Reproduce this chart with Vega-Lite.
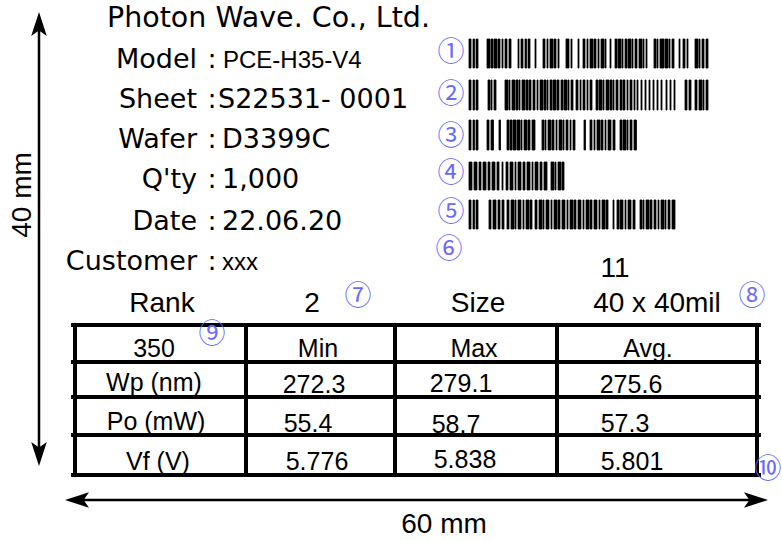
{
  "$schema": "https://vega.github.io/schema/vega-lite/v6.json",
  "width": 782,
  "height": 541,
  "padding": 0,
  "autosize": {"type": "none"},
  "background": "white",
  "config": {"view": {"stroke": null}},
  "datasets": {
    "codes": [
      {"b": 1, "y": 39, "y2": 68},
      {"b": 2, "y": 80, "y2": 110},
      {"b": 3, "y": 120, "y2": 150},
      {"b": 4, "y": 162, "y2": 190},
      {"b": 5, "y": 200, "y2": 229}
    ],
    "bars": [
      {"b":1,"x":469,"x2":471},{"b":1,"x":473,"x2":474.5},{"b":1,"x":476,"x2":478},
      {"b":1,"x":487,"x2":490},{"b":1,"x":491,"x2":493},{"b":1,"x":494,"x2":497},{"b":1,"x":498,"x2":500},{"b":1,"x":502,"x2":503},{"b":1,"x":505,"x2":507},{"b":1,"x":509,"x2":511},
      {"b":1,"x":518,"x2":519},{"b":1,"x":521,"x2":523},{"b":1,"x":525,"x2":526.5},{"b":1,"x":528,"x2":530},
      {"b":1,"x":535,"x2":536},
      {"b":1,"x":543,"x2":545},{"b":1,"x":547,"x2":548},{"b":1,"x":550,"x2":553},{"b":1,"x":554,"x2":556},{"b":1,"x":558,"x2":559},
      {"b":1,"x":566,"x2":569},{"b":1,"x":571,"x2":572},
      {"b":1,"x":578,"x2":579},{"b":1,"x":583,"x2":585},{"b":1,"x":587,"x2":588},{"b":1,"x":590,"x2":593},{"b":1,"x":594,"x2":596},{"b":1,"x":598,"x2":599},{"b":1,"x":601,"x2":604},{"b":1,"x":605,"x2":606},
      {"b":1,"x":610,"x2":611},
      {"b":1,"x":615,"x2":617},{"b":1,"x":618,"x2":621},{"b":1,"x":622,"x2":623},{"b":1,"x":625,"x2":627},{"b":1,"x":628,"x2":631},{"b":1,"x":632,"x2":633},{"b":1,"x":635,"x2":637},{"b":1,"x":639,"x2":642},{"b":1,"x":643,"x2":644},{"b":1,"x":646,"x2":647},
      {"b":1,"x":654,"x2":656},{"b":1,"x":657,"x2":658},{"b":1,"x":660,"x2":664},{"b":1,"x":665,"x2":668},{"b":1,"x":669,"x2":670},{"b":1,"x":672,"x2":674},
      {"b":1,"x":679,"x2":680},{"b":1,"x":683,"x2":685},{"b":1,"x":687,"x2":688},
      {"b":1,"x":695,"x2":698},{"b":1,"x":699,"x2":700},{"b":1,"x":702,"x2":704},{"b":1,"x":706,"x2":708},

      {"b":2,"x":469,"x2":471},{"b":2,"x":473,"x2":474.5},{"b":2,"x":476,"x2":478},
      {"b":2,"x":488,"x2":490},{"b":2,"x":491,"x2":492},{"b":2,"x":494,"x2":496},
      {"b":2,"x":505,"x2":508},{"b":2,"x":509,"x2":510},{"b":2,"x":512,"x2":515},{"b":2,"x":516,"x2":518},{"b":2,"x":519,"x2":520},{"b":2,"x":522,"x2":525},{"b":2,"x":526,"x2":528},{"b":2,"x":529,"x2":531},
      {"b":2,"x":533,"x2":535},{"b":2,"x":537,"x2":538},{"b":2,"x":540,"x2":543},{"b":2,"x":544,"x2":546},{"b":2,"x":547,"x2":548},{"b":2,"x":550,"x2":552},{"b":2,"x":553,"x2":556},{"b":2,"x":557,"x2":559},
      {"b":2,"x":561,"x2":563},{"b":2,"x":564,"x2":567},{"b":2,"x":568,"x2":569},{"b":2,"x":571,"x2":573},
      {"b":2,"x":576,"x2":578},{"b":2,"x":580,"x2":581},{"b":2,"x":583,"x2":585},{"b":2,"x":587,"x2":588},{"b":2,"x":590,"x2":592},
      {"b":2,"x":596,"x2":598},{"b":2,"x":599,"x2":602},{"b":2,"x":603,"x2":604},{"b":2,"x":606,"x2":609},{"b":2,"x":610,"x2":612},{"b":2,"x":613,"x2":614},{"b":2,"x":616,"x2":618},
      {"b":2,"x":620,"x2":622},{"b":2,"x":623,"x2":625},{"b":2,"x":627,"x2":628},{"b":2,"x":630,"x2":632},{"b":2,"x":634,"x2":635},{"b":2,"x":637,"x2":638},{"b":2,"x":641,"x2":642},{"b":2,"x":645,"x2":646},{"b":2,"x":649,"x2":650},{"b":2,"x":653,"x2":654},{"b":2,"x":657,"x2":658},{"b":2,"x":661,"x2":662},{"b":2,"x":666,"x2":667},{"b":2,"x":670,"x2":671},{"b":2,"x":674,"x2":675},
      {"b":2,"x":685,"x2":687},{"b":2,"x":689,"x2":691},
      {"b":2,"x":695,"x2":697},{"b":2,"x":699,"x2":702},{"b":2,"x":703,"x2":704},{"b":2,"x":706,"x2":708},

      {"b":3,"x":469,"x2":471},{"b":3,"x":473,"x2":474.5},{"b":3,"x":476,"x2":478},
      {"b":3,"x":487,"x2":489},{"b":3,"x":491,"x2":493.5},
      {"b":3,"x":499,"x2":500.5},
      {"b":3,"x":507,"x2":509},{"b":3,"x":510,"x2":512},{"b":3,"x":513,"x2":516},{"b":3,"x":517,"x2":520},{"b":3,"x":521,"x2":522},{"b":3,"x":524,"x2":527},{"b":3,"x":528,"x2":530},
      {"b":3,"x":532,"x2":535},
      {"b":3,"x":542,"x2":544},{"b":3,"x":545,"x2":546},{"b":3,"x":548,"x2":551},{"b":3,"x":552,"x2":554},{"b":3,"x":556,"x2":557},{"b":3,"x":559,"x2":562},{"b":3,"x":563,"x2":564},{"b":3,"x":566,"x2":568},{"b":3,"x":570,"x2":571},{"b":3,"x":573,"x2":575},
      {"b":3,"x":584,"x2":585.5},
      {"b":3,"x":590,"x2":592},{"b":3,"x":594,"x2":595},{"b":3,"x":597,"x2":600},{"b":3,"x":601,"x2":603},{"b":3,"x":605,"x2":606},{"b":3,"x":608,"x2":611},{"b":3,"x":613,"x2":615},
      {"b":3,"x":620,"x2":622},{"b":3,"x":623,"x2":626},{"b":3,"x":627,"x2":628},{"b":3,"x":630,"x2":632},{"b":3,"x":634,"x2":636.5},

      {"b":4,"x":469,"x2":472},{"b":4,"x":474,"x2":477},{"b":4,"x":479,"x2":481},{"b":4,"x":483,"x2":486},{"b":4,"x":488,"x2":490},{"b":4,"x":492,"x2":495},{"b":4,"x":497,"x2":499},
      {"b":4,"x":502,"x2":503},
      {"b":4,"x":506,"x2":508},{"b":4,"x":510,"x2":513},{"b":4,"x":515,"x2":516},{"b":4,"x":518,"x2":521},{"b":4,"x":523,"x2":525},{"b":4,"x":527,"x2":530},{"b":4,"x":532,"x2":533},{"b":4,"x":535,"x2":538},{"b":4,"x":540,"x2":542},{"b":4,"x":544,"x2":547},
      {"b":4,"x":551,"x2":554},{"b":4,"x":555,"x2":556},{"b":4,"x":558,"x2":561},{"b":4,"x":562,"x2":564},

      {"b":5,"x":469,"x2":471},{"b":5,"x":473,"x2":474.5},{"b":5,"x":476,"x2":478},
      {"b":5,"x":489,"x2":491},{"b":5,"x":493,"x2":496},{"b":5,"x":498,"x2":500},{"b":5,"x":502,"x2":504},
      {"b":5,"x":507,"x2":509},{"b":5,"x":511,"x2":514},{"b":5,"x":515,"x2":516},{"b":5,"x":518,"x2":521},{"b":5,"x":523,"x2":524},{"b":5,"x":526,"x2":529},{"b":5,"x":530,"x2":532},
      {"b":5,"x":535,"x2":537},{"b":5,"x":539,"x2":542},{"b":5,"x":543,"x2":544},{"b":5,"x":546,"x2":549},{"b":5,"x":551,"x2":552},{"b":5,"x":554,"x2":557},{"b":5,"x":558,"x2":560},{"b":5,"x":562,"x2":565},{"b":5,"x":567,"x2":568},{"b":5,"x":570,"x2":573},{"b":5,"x":574,"x2":576},{"b":5,"x":578,"x2":581},{"b":5,"x":583,"x2":584},{"b":5,"x":586,"x2":589},{"b":5,"x":590,"x2":592},{"b":5,"x":594,"x2":597},{"b":5,"x":599,"x2":600},{"b":5,"x":602,"x2":605},{"b":5,"x":606,"x2":608},
      {"b":5,"x":613,"x2":614},
      {"b":5,"x":617,"x2":619},{"b":5,"x":620,"x2":623},{"b":5,"x":625,"x2":626},{"b":5,"x":628,"x2":631},{"b":5,"x":633,"x2":635},
      {"b":5,"x":640,"x2":642},{"b":5,"x":643,"x2":644},{"b":5,"x":646,"x2":649},{"b":5,"x":650,"x2":652},{"b":5,"x":654,"x2":656},{"b":5,"x":658,"x2":659},
      {"b":5,"x":661,"x2":664},{"b":5,"x":665,"x2":666},{"b":5,"x":668,"x2":670},{"b":5,"x":672,"x2":675}
    ],
    "lines": [
      {"k":"table","x":73,"y":325,"x2":759,"y2":325},
      {"k":"table","x":73,"y":362,"x2":759,"y2":362},
      {"k":"table","x":73,"y":397,"x2":759,"y2":397},
      {"k":"table","x":73,"y":435,"x2":759,"y2":435},
      {"k":"table","x":73,"y":475,"x2":759,"y2":475},
      {"k":"table","x":75,"y":325,"x2":75,"y2":475},
      {"k":"table","x":246,"y":325,"x2":246,"y2":475},
      {"k":"table","x":395,"y":325,"x2":395,"y2":475},
      {"k":"table","x":557,"y":325,"x2":557,"y2":475},
      {"k":"table","x":757,"y":325,"x2":757,"y2":475},
      {"k":"arrow","x":39,"y":24,"x2":39,"y2":455},
      {"k":"arrow","x":76,"y":500,"x2":757,"y2":500}
    ],
    "heads": [
      {"x":39,"y":24,"a":0},
      {"x":39,"y":454,"a":180},
      {"x":77,"y":500,"a":270},
      {"x":756,"y":500,"a":90}
    ],
    "texts": [
      {"k":"title","t":"Photon Wave. Co., Ltd.","x":107,"y":27},
      {"k":"label","t":"Model","x":197,"y":68},
      {"k":"label","t":"Sheet","x":197,"y":108},
      {"k":"label","t":"Wafer","x":197,"y":148},
      {"k":"label","t":"Q'ty","x":197,"y":188},
      {"k":"label","t":"Date","x":197,"y":230},
      {"k":"label","t":"Customer","x":197,"y":270},
      {"k":"colon","t":":","x":212,"y":68},
      {"k":"colon","t":":","x":212,"y":108},
      {"k":"colon","t":":","x":212,"y":148},
      {"k":"colon","t":":","x":212,"y":188},
      {"k":"colon","t":":","x":212,"y":230},
      {"k":"colon","t":":","x":212,"y":270},
      {"k":"value","t":"S22531- 0001","x":218,"y":108},
      {"k":"value","t":"D3399C","x":222,"y":148},
      {"k":"value","t":"1,000","x":222,"y":188},
      {"k":"value","t":"22.06.20","x":222,"y":230},
      {"k":"valueN","t":"PCE-H35-V4","x":223,"y":68},
      {"k":"valueN","t":"xxx","x":222,"y":270},
      {"k":"head","t":"11","x":615,"y":277},
      {"k":"head","t":"Rank","x":162,"y":312},
      {"k":"head","t":"2","x":312,"y":312},
      {"k":"head","t":"Size","x":478,"y":312},
      {"k":"head","t":"40 x 40mil","x":657,"y":312},
      {"k":"dim","t":"60 mm","x":444,"y":533},
      {"k":"table","t":"350","x":154,"y":357},
      {"k":"table","t":"Min","x":318,"y":357},
      {"k":"table","t":"Max","x":474,"y":357},
      {"k":"table","t":"Avg.","x":648,"y":357},
      {"k":"table","t":"Wp (nm)","x":154,"y":391},
      {"k":"table","t":"272.3","x":314,"y":393},
      {"k":"table","t":"279.1","x":461,"y":392},
      {"k":"table","t":"275.6","x":631,"y":393},
      {"k":"table","t":"Po (mW)","x":156,"y":430},
      {"k":"table","t":"55.4","x":308,"y":432},
      {"k":"table","t":"58.7","x":456,"y":433},
      {"k":"table","t":"57.3","x":625,"y":432},
      {"k":"table","t":"Vf (V)","x":158,"y":470},
      {"k":"table","t":"5.776","x":317,"y":470},
      {"k":"table","t":"5.838","x":465,"y":468},
      {"k":"table","t":"5.801","x":632,"y":470},
      {"k":"vdim","t":"40 mm","x":31,"y":195},
      {"k":"circ","t":"①","x":451,"y":53},
      {"k":"circ","t":"②","x":451,"y":95},
      {"k":"circ","t":"③","x":451,"y":137},
      {"k":"circ","t":"④","x":451,"y":174},
      {"k":"circ","t":"⑤","x":451,"y":213},
      {"k":"circ","t":"⑥","x":449,"y":250},
      {"k":"circ","t":"⑦","x":358,"y":297},
      {"k":"circ","t":"⑧","x":752,"y":297},
      {"k":"circ","t":"⑨","x":212,"y":335},
      {"k":"circ","t":"⑩","x":768,"y":470}
    ]
  },
  "layer": [
    {
      "data": {"name": "bars"},
      "transform": [
        {"lookup": "b", "from": {"data": {"name": "codes"}, "key": "b", "fields": ["y", "y2"]}}
      ],
      "mark": {"type": "rect", "color": "#000000", "stroke": "#000000", "strokeWidth": 0.8},
      "encoding": {
        "x": {"field": "x", "type": "quantitative", "axis": null, "scale": {"domain": [0, 782], "nice": false, "zero": false}},
        "x2": {"field": "x2"},
        "y": {"field": "y", "type": "quantitative", "axis": null, "scale": {"domain": [0, 541], "nice": false, "zero": false, "reverse": true}},
        "y2": {"field": "y2"}
      }
    },
    {
      "data": {"name": "lines"},
      "transform": [{"filter": {"field": "k", "equal": "table"}}],
      "mark": {"type": "rule", "color": "#000000", "strokeWidth": 4, "strokeCap": "square"},
      "encoding": {
        "x": {"field": "x", "type": "quantitative"},
        "x2": {"field": "x2"},
        "y": {"field": "y", "type": "quantitative"},
        "y2": {"field": "y2"}
      }
    },
    {
      "data": {"name": "lines"},
      "transform": [{"filter": {"field": "k", "equal": "arrow"}}],
      "mark": {"type": "rule", "color": "#000000", "strokeWidth": 2.5},
      "encoding": {
        "x": {"field": "x", "type": "quantitative"},
        "x2": {"field": "x2"},
        "y": {"field": "y", "type": "quantitative"},
        "y2": {"field": "y2"}
      }
    },
    {
      "data": {"name": "heads"},
      "mark": {"type": "point", "shape": "M0,-1 L0.65,1 L0,0.55 L-0.65,1 Z", "filled": true, "color": "#000000", "opacity": 1, "size": 576, "strokeWidth": 0},
      "encoding": {
        "x": {"field": "x", "type": "quantitative"},
        "y": {"field": "y", "type": "quantitative"},
        "angle": {"field": "a", "type": "quantitative", "scale": null}
      }
    },
    {
      "data": {"name": "texts"},
      "transform": [{"filter": {"field": "k", "equal": "title"}}],
      "mark": {"type": "text", "font": "DejaVu Sans", "fontSize": 28.5, "align": "left", "baseline": "alphabetic", "color": "#000000"},
      "encoding": {"x": {"field": "x", "type": "quantitative"}, "y": {"field": "y", "type": "quantitative"}, "text": {"field": "t"}}
    },
    {
      "data": {"name": "texts"},
      "transform": [{"filter": {"field": "k", "equal": "label"}}],
      "mark": {"type": "text", "font": "DejaVu Sans", "fontSize": 27, "align": "right", "baseline": "alphabetic", "color": "#000000"},
      "encoding": {"x": {"field": "x", "type": "quantitative"}, "y": {"field": "y", "type": "quantitative"}, "text": {"field": "t"}}
    },
    {
      "data": {"name": "texts"},
      "transform": [{"filter": {"field": "k", "equal": "colon"}}],
      "mark": {"type": "text", "font": "DejaVu Sans", "fontSize": 27, "align": "center", "baseline": "alphabetic", "color": "#000000"},
      "encoding": {"x": {"field": "x", "type": "quantitative"}, "y": {"field": "y", "type": "quantitative"}, "text": {"field": "t"}}
    },
    {
      "data": {"name": "texts"},
      "transform": [{"filter": {"field": "k", "equal": "value"}}],
      "mark": {"type": "text", "font": "DejaVu Sans", "fontSize": 27, "align": "left", "baseline": "alphabetic", "color": "#000000"},
      "encoding": {"x": {"field": "x", "type": "quantitative"}, "y": {"field": "y", "type": "quantitative"}, "text": {"field": "t"}}
    },
    {
      "data": {"name": "texts"},
      "transform": [{"filter": {"field": "k", "equal": "valueN"}}],
      "mark": {"type": "text", "font": "Liberation Sans", "fontSize": 24, "align": "left", "baseline": "alphabetic", "color": "#000000"},
      "encoding": {"x": {"field": "x", "type": "quantitative"}, "y": {"field": "y", "type": "quantitative"}, "text": {"field": "t"}}
    },
    {
      "data": {"name": "texts"},
      "transform": [{"filter": {"field": "k", "oneOf": ["head", "dim"]}}],
      "mark": {"type": "text", "font": "Liberation Sans", "fontSize": 28, "align": "center", "baseline": "alphabetic", "color": "#000000"},
      "encoding": {"x": {"field": "x", "type": "quantitative"}, "y": {"field": "y", "type": "quantitative"}, "text": {"field": "t"}}
    },
    {
      "data": {"name": "texts"},
      "transform": [{"filter": {"field": "k", "equal": "vdim"}}],
      "mark": {"type": "text", "font": "Liberation Sans", "fontSize": 28, "align": "center", "baseline": "alphabetic", "angle": 270, "color": "#000000"},
      "encoding": {"x": {"field": "x", "type": "quantitative"}, "y": {"field": "y", "type": "quantitative"}, "text": {"field": "t"}}
    },
    {
      "data": {"name": "texts"},
      "transform": [{"filter": {"field": "k", "equal": "table"}}],
      "mark": {"type": "text", "font": "Liberation Sans", "fontSize": 25, "align": "center", "baseline": "alphabetic", "color": "#000000"},
      "encoding": {"x": {"field": "x", "type": "quantitative"}, "y": {"field": "y", "type": "quantitative"}, "text": {"field": "t"}}
    },
    {
      "data": {"name": "texts"},
      "transform": [{"filter": {"field": "k", "equal": "circ"}}],
      "mark": {"type": "text", "font": "Noto Sans CJK KR", "fontSize": 27, "align": "center", "baseline": "middle", "color": "#6a6aff"},
      "encoding": {"x": {"field": "x", "type": "quantitative"}, "y": {"field": "y", "type": "quantitative"}, "text": {"field": "t"}}
    }
  ]
}
